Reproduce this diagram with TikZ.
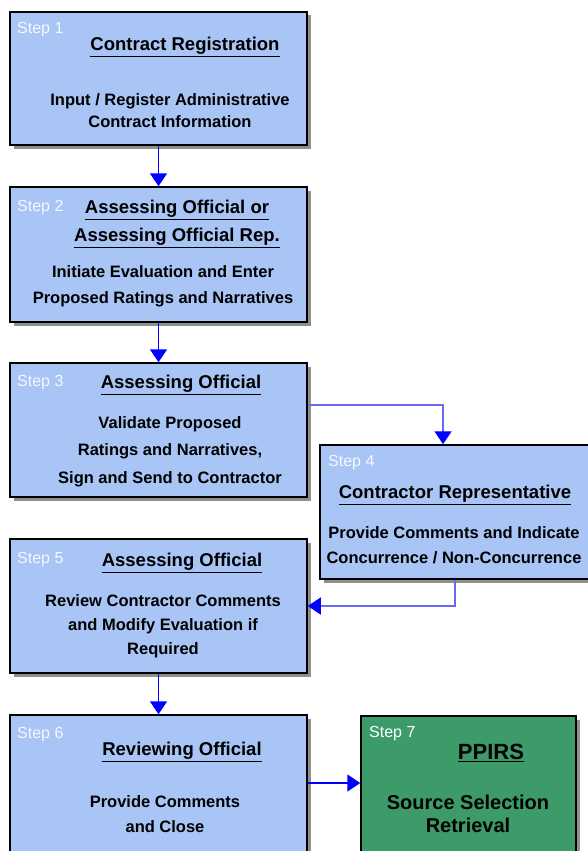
\documentclass[tikz,border=0pt]{standalone}
\usepackage{fontspec}
\setmainfont{Liberation Sans}
\usetikzlibrary{arrows.meta,shadows}
\definecolor{boxblue}{RGB}{168,197,246}
\definecolor{boxgreen}{RGB}{60,155,105}
\definecolor{linkblue}{RGB}{105,105,240}
\tikzset{
  stepbox/.style={draw=black, line width=1.5pt, fill=boxblue, minimum width=297pt,
    drop shadow={shadow xshift=3.5pt, shadow yshift=-3.5pt, fill=black!55, opacity=.8}},
  steplabel/.style={anchor=west, inner sep=0pt, text=white!88!boxblue,
    font=\fontsize{16}{18}\selectfont},
  titletext/.style={inner sep=0pt, align=center,
    font=\bfseries\fontsize{18.5}{28}\selectfont},
  bodytext/.style={inner sep=0pt, align=center,
    font=\bfseries\fontsize{16.5}{25}\selectfont},
  flow/.style={draw=blue, line width=1.6pt, -{Triangle[width=17pt,length=13pt]}},
  link/.style={draw=linkblue, line width=1.4pt, -{Triangle[width=17pt,length=13pt,color=blue]}},
}

\begin{document}
\begin{tikzpicture}[x=1pt,y=-1pt]
\useasboundingbox (0,0) rectangle (587,851);
% boxes
\node [stepbox, minimum height=133pt] (b1) at (158.5,78.5) {};
\node [stepbox, minimum height=135pt] (b2) at (158.5,254.5) {};
\node [stepbox, minimum height=134pt] (b3) at (158.5,430) {};
\node [stepbox, minimum height=134pt, minimum width=270pt] (b4) at (455,512) {};
\node [stepbox, minimum height=134pt] (b5) at (158.5,606) {};
\node [stepbox, minimum height=140pt] (b6) at (158.5,785) {};
\node [stepbox, fill=boxgreen, minimum height=140pt, minimum width=215pt] (b7) at (468.5,786) {};
% step numbers
\node [steplabel] (s1) at (17,30) {Step 1};
\node [steplabel] (s2) at (17,208) {Step 2};
\node [steplabel] (s3) at (17,383) {Step 3};
\node [steplabel] (s4) at (328,463) {Step 4};
\node [steplabel] (s5) at (17,560) {Step 5};
\node [steplabel] (s6) at (17,735) {Step 6};
\node [steplabel, text=white] (s7) at (369,734) {Step 7};
% titles
\node [titletext] (t1) at (185,47) {\underline{Contract Registration}};
\node [titletext] (t2) at (177,224) {\underline{Assessing Official or}\\\underline{Assessing Official Rep.}};
\node [titletext] (t3) at (181,385) {\underline{Assessing Official}};
\node [titletext] (t4) at (455,495) {\underline{Contractor Representative}};
\node [titletext] (t5) at (182,563) {\underline{Assessing Official}};
\node [titletext] (t6) at (182,752) {\underline{Reviewing Official}};
\node [titletext, font=\bfseries\fontsize{22}{26}\selectfont] (t7) at (491,753) {\underline{PPIRS}};
% descriptions
\node [bodytext, font=\bfseries\fontsize{16.5}{22}\selectfont] (d1) at (170,111) {Input / Register Administrative\\Contract Information};
\node [bodytext, font=\bfseries\fontsize{16.5}{26}\selectfont] (d2) at (163,286) {Initiate Evaluation and Enter\\Proposed Ratings and Narratives};
\node [bodytext, font=\bfseries\fontsize{16.5}{27.5}\selectfont] (d3) at (170,451.5) {Validate Proposed\\Ratings and Narratives,\\Sign and Send to Contractor};
\node [bodytext] (d4) at (454,545) {Provide Comments and Indicate\\Concurrence / Non-Concurrence};
\node [bodytext, font=\bfseries\fontsize{16.5}{24}\selectfont] (d5) at (163,626) {Review Contractor Comments\\and Modify Evaluation if\\Required};
\node [bodytext] (d6) at (165,814.5) {Provide Comments\\and Close};
\node [bodytext, font=\bfseries\fontsize{20}{23}\selectfont] (d7) at (468,814) {Source Selection\\Retrieval};
% connectors
\coordinate (k3) at (443,405);
\coordinate (k6) at (0,783);
\draw[flow] (b1) -- (b2);
\draw[flow] (b2) -- (b3);
\draw[link] (b3.east |- k3) -| (b4.north -| k3);
\draw[link] (b4.south) |- (b5.east);
\draw[flow] (b5) -- (b6);
\draw[flow] (b6.east |- k6) -- (b7.west |- k6);
\end{tikzpicture}
\end{document}
